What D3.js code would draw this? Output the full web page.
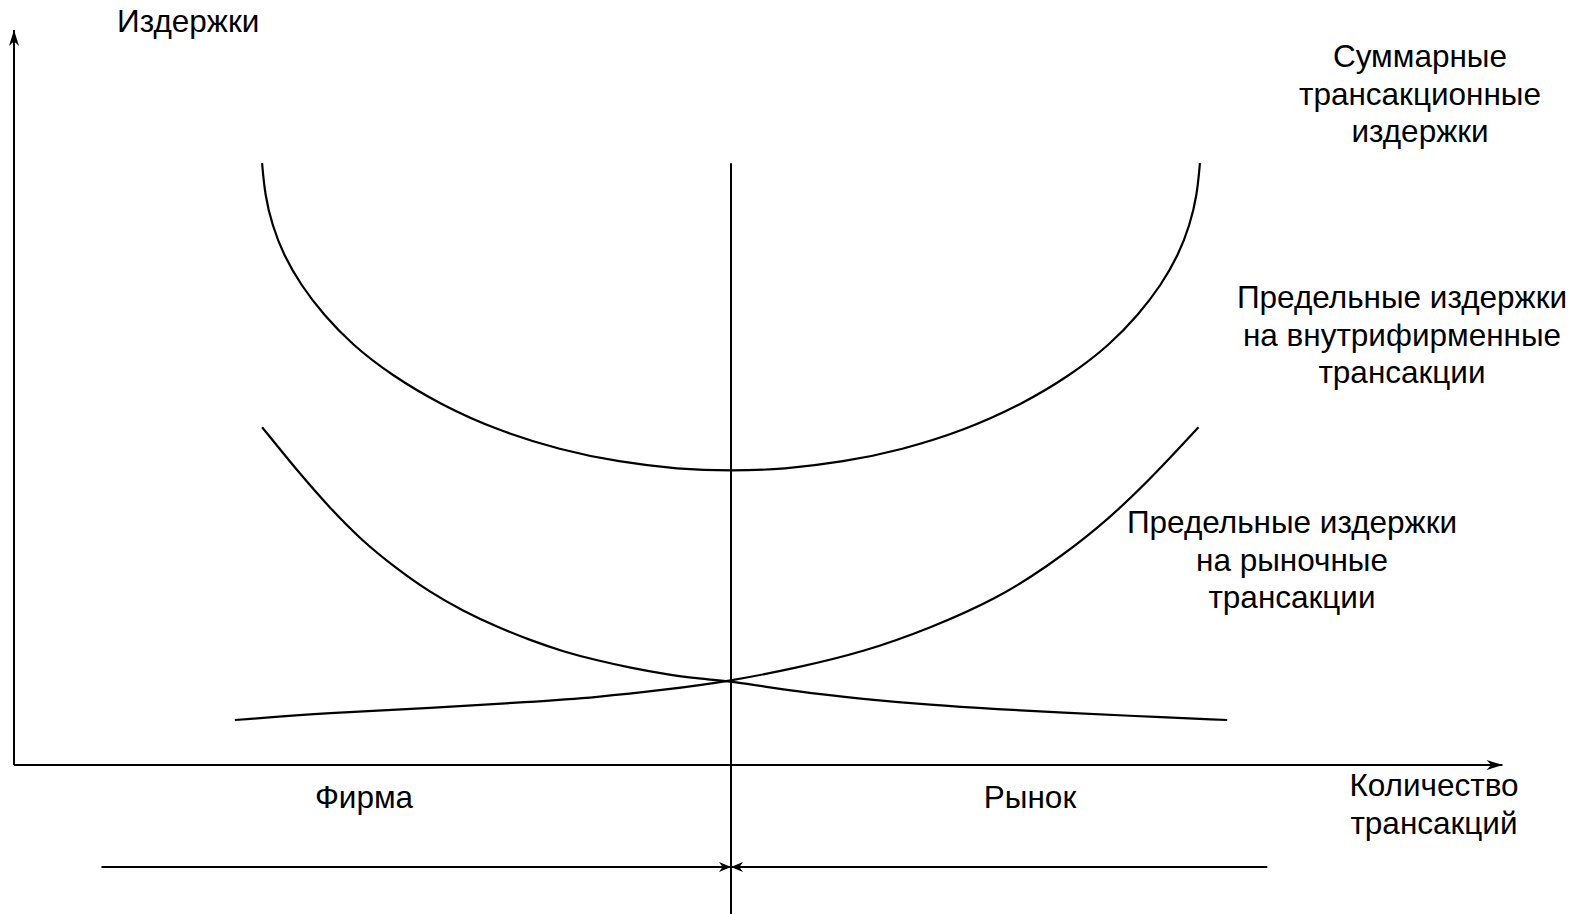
<!DOCTYPE html>
<html>
<head>
<meta charset="utf-8">
<script src="https://cdn.jsdelivr.net/npm/d3@7"></script>
<style>
  body { margin: 0; background: #fff; }
  text { fill: #000; }
</style>
</head>
<body>
<div id="chart"></div>
<script>
const width = 1585;
const height = 914;

// points: x = quantity of transactions, y = costs
const totalX = [17.3, 17.5, 18.0, 18.8, 20.0, 21.6, 23.6, 26.3, 29.8, 33.7, 38.1, 42.2, 46.3, 50, 53.7, 57.8, 61.9, 66.3, 70.2, 73.7, 76.4, 78.4, 80.0, 81.2, 82.0, 82.5, 82.7];
const totalY = [100.3, 95.0, 90.0, 85.0, 80.0, 75.0, 70.0, 65.0, 60.0, 55.8, 52.5, 50.5, 49.3, 49.0, 49.3, 50.5, 52.5, 55.8, 60.0, 65.0, 70.0, 75.0, 80.0, 85.0, 90.0, 95.0, 100.3];

const internalX = [15.4, 22.0, 29.0, 36.0, 40.7, 45.3, 50, 54.6, 59.2, 63.9, 68.6, 72.0, 75.5, 79.0, 82.6];
const internalY = [7.5, 8.7, 9.5, 10.5, 11.3, 12.5, 14.0, 16.2, 18.8, 22.8, 27.8, 33.0, 39.2, 47.0, 56.3];

const marketX = [17.3, 19.7, 22.0, 24.3, 26.7, 29.0, 31.3, 33.7, 36.0, 38.3, 40.7, 43.0, 45.3, 47.6, 50, 54.6, 59.2, 63.9, 68.6, 73.2, 77.8, 84.6];
const marketY = [56.3, 49.2, 42.9, 37.3, 32.7, 28.8, 25.7, 23.0, 20.8, 18.9, 17.4, 16.2, 15.2, 14.4, 14.0, 12.2, 11.0, 10.0, 9.3, 8.7, 8.2, 7.5];

const boundaryX = 50;          // firm / market boundary
const boundaryTop = 100.3;
const bracketY = -17;
const bracketFrom = [6.1, 87.4];

const yTitle = "Издержки";
const xTitle = ["Количество", "трансакций"];
const totalLabel = ["Суммарные", "трансакционные", "издержки"];
const internalLabel = ["Предельные издержки", "на внутрифирменные", "трансакции"];
const marketLabel = ["Предельные издержки", "на рыночные", "трансакции"];
const sideLabels = ["Фирма", "Рынок"];

const svg = d3.select("#chart")
    .append("svg")
    .attr("width", width)
    .attr("height", height);

const x = d3.scaleLinear().domain([0, 100]).range([14, 1448]);
const y = d3.scaleLinear().domain([0, 100]).range([765, 165]);

const defs = svg.append("defs");
function arrow(id, len, half) {
    defs.append("marker")
        .attr("id", id)
        .attr("markerUnits", "userSpaceOnUse")
        .attr("viewBox", `${-len} ${-half} ${len} ${half * 2}`)
        .attr("refX", 0).attr("refY", 0)
        .attr("markerWidth", len).attr("markerHeight", half * 2)
        .attr("orient", "auto")
        .append("path")
        .attr("d", `M0,0L${-len},${-half}L${-len * 0.7},0L${-len},${half}Z`)
        .attr("fill", "#000");
}
arrow("axis-arrow", 16, 5);
arrow("small-arrow", 12, 5);

const line = d3.line()
    .x(d => x(d[0]))
    .y(d => y(d[1]))
    .curve(d3.curveBasis);

// axes
svg.append("line")
    .attr("x1", x(0)).attr("y1", y(0))
    .attr("x2", x(0)).attr("y2", y(122.5))
    .attr("stroke", "#000").attr("stroke-width", 2)
    .attr("marker-end", "url(#axis-arrow)");
svg.append("line")
    .attr("x1", x(0)).attr("y1", y(0))
    .attr("x2", x(103.8)).attr("y2", y(0))
    .attr("stroke", "#000").attr("stroke-width", 2)
    .attr("marker-end", "url(#axis-arrow)");

// boundary
svg.append("line")
    .attr("x1", x(boundaryX)).attr("y1", y(boundaryTop))
    .attr("x2", x(boundaryX)).attr("y2", height)
    .attr("stroke", "#000").attr("stroke-width", 2);

bracketFrom.forEach(v => {
    svg.append("line")
        .attr("x1", x(v)).attr("y1", y(bracketY))
        .attr("x2", x(boundaryX)).attr("y2", y(bracketY))
        .attr("stroke", "#000").attr("stroke-width", 2)
        .attr("marker-end", "url(#small-arrow)");
});

// curves
const curves = [
    d3.zip(totalX, totalY),
    d3.zip(internalX, internalY),
    d3.zip(marketX, marketY)
];
svg.selectAll(".curve")
    .data(curves)
    .enter()
    .append("path")
    .attr("class", "curve")
    .attr("d", line)
    .attr("fill", "none")
    .attr("stroke", "#000")
    .attr("stroke-width", 2.2);

// labels
const fontSize = 31.5;
function label(lines, cx, top, step, anchor) {
    const t = svg.append("text")
        .attr("font-family", "'Liberation Sans', Arial, sans-serif")
        .attr("font-size", fontSize)
        .attr("text-anchor", anchor || "middle");
    lines.forEach((s, i) => {
        t.append("tspan").attr("x", cx).attr("y", top + i * step).text(s);
    });
}
label([yTitle], 117, 32, 0, "start");
label(totalLabel, 1420, 67, 37.5);
label(internalLabel, 1402, 308, 37.5);
label(marketLabel, 1292, 533, 37.5);
label(xTitle, 1434, 796, 38);
label([sideLabels[0]], 364, 808, 0);
label([sideLabels[1]], 1030, 808, 0);
</script>
</body>
</html>
